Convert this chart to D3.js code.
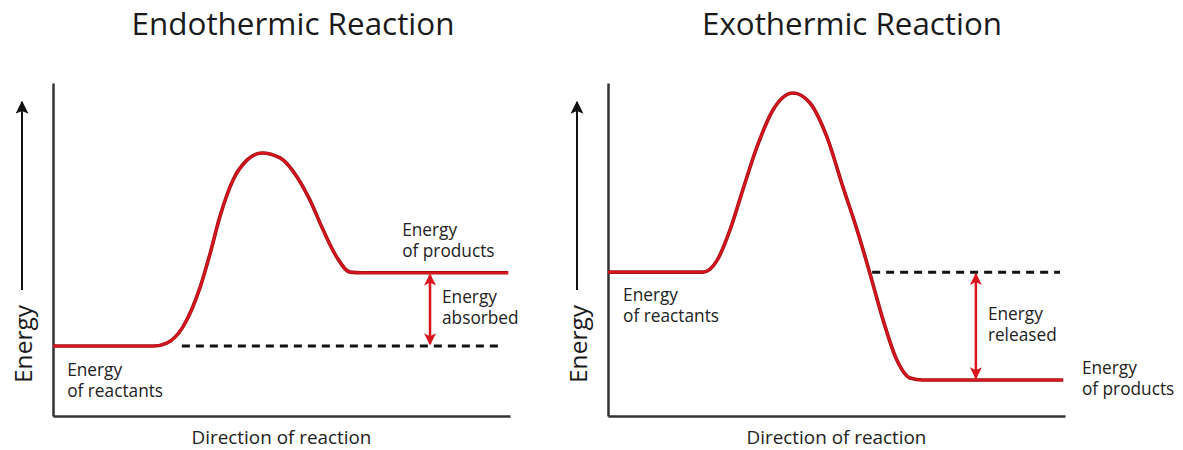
<!DOCTYPE html>
<html><head><meta charset="utf-8">
<script src="https://cdn.jsdelivr.net/npm/d3@7"></script>
<style>
html,body{margin:0;padding:0;background:#fff;}
svg{display:block;}
text{font-family:"Open Sans",Lato,sans-serif;fill:#222;}
</style></head>
<body>
<script>
// ---- data ----
const titles = ["Endothermic Reaction", "Exothermic Reaction"];
const xAxisLabel = "Direction of reaction";
const yAxisLabel = "Energy";
// reaction progress (0-100) and energy (0-100) along each curve
const endoProgress = [0, 22, 24.9, 28.4, 32.2, 34.4, 36.5, 39.4, 42.5, 45.7, 49.7, 53.4, 56.2, 59.1, 62.1, 65.0, 67.8, 99.6];
const endoEnergy   = [21, 21, 21.9, 26.7, 38.7, 48.9, 59.8, 70.9, 76.9, 79.0, 77.5, 71.8, 64.9, 55.9, 47.7, 43.2, 43.0, 43.0];
const exoProgress  = [0, 20.8, 23.9, 26.7, 29.5, 32.6, 36.1, 40.5, 44.2, 47.9, 51.4, 54.5, 57.3, 60.2, 63.2, 66.1, 68.9, 99.6];
const exoEnergy    = [43.2, 43.2, 46.8, 55.9, 67.9, 80.8, 91.9, 97.0, 94.0, 83.8, 68.8, 55.9, 42.9, 28.8, 16.8, 11.4, 10.8, 10.8];
const reactantEnergy = [21, 43.2];
const productEnergy  = [43, 10.8];
const dashStart = [28.2, 57.8];
const dashEnd   = [98.2, 98.9];
const deltaArrowX = [82.5, 80.5];
const deltaLabels = [["Energy", "absorbed"], ["Energy", "released"]];

const W = 1183, H = 450;
const svg = d3.select("body").append("svg").attr("width", W).attr("height", H);
const defs = svg.append("defs");
const red = "#d8141c", axisCol = "#333";

// font sizing helper: size so that `str` spans `target` px
function fitSize(str, target) {
  const t = svg.append("text").attr("font-size", 100).text(str);
  const w = t.node().getComputedTextLength();
  t.remove();
  return 100 * target / w;
}
const labelSize = fitSize("of reactants", 96);
const xLabelSize = fitSize(xAxisLabel, 180);
const yLabelSize = fitSize(yAxisLabel, 78);
const lineGap = 21;

defs.append("marker").attr("id", "blackHead").attr("viewBox", "0 0 10 10")
  .attr("refX", 9).attr("refY", 5).attr("markerWidth", 13).attr("markerHeight", 13)
  .attr("markerUnits", "userSpaceOnUse").attr("orient", "auto")
  .append("path").attr("d", "M0,0 L10,5 L0,10 L2,5 Z").attr("fill", "#111");
defs.append("marker").attr("id", "redHead").attr("viewBox", "0 0 10 10")
  .attr("refX", 9).attr("refY", 5).attr("markerWidth", 13).attr("markerHeight", 12)
  .attr("markerUnits", "userSpaceOnUse").attr("orient", "auto-start-reverse")
  .append("path").attr("d", "M0,0 L10,5 L0,10 L2.5,5 Z").attr("fill", red);

const panelLeft = [53, 608];
const panelWidth = 457;
const yScale = d3.scaleLinear().domain([0, 100]).range([416, 83]);

const curves = [
  endoProgress.map((p, i) => [p, endoEnergy[i]]),
  exoProgress.map((p, i) => [p, exoEnergy[i]])
];

// label layouts per panel (in data units; dy = offset of first baseline)
const labelSets = [
  [ {x: 3.1, y: 21, dy: 30, lines: ["Energy", "of reactants"]},
    {x: 76.4, y: 43, dy: -37, lines: ["Energy", "of products"]} ],
  [ {x: 3.3, y: 43.2, dy: 29, lines: ["Energy", "of reactants"]},
    {x: 103.7, y: 10.8, dy: -6, lines: ["Energy", "of products"]} ]
];
const titleCenters = [293, 852];
const titleWidths = [323, 300];

[0, 1].forEach(k => {
  const x = d3.scaleLinear().domain([0, 100]).range([panelLeft[k], panelLeft[k] + panelWidth]);
  const g = svg.append("g");

  // title
  g.append("text").text(titles[k]).attr("x", titleCenters[k]).attr("y", 35)
    .attr("text-anchor", "middle").attr("font-size", fitSize(titles[k], titleWidths[k]))
    .style("fill", "#1a1a1a");

  // axes
  const yAxis = d3.axisLeft(yScale).tickValues([]).tickSizeOuter(0);
  const xAxis = d3.axisBottom(x).tickValues([]).tickSizeOuter(0);
  g.append("g").attr("transform", `translate(${x(0)},0)`).call(yAxis)
    .call(s => s.select(".domain").attr("stroke", axisCol).attr("stroke-width", 2.5));
  g.append("g").attr("transform", `translate(0,${yScale(0)})`).call(xAxis)
    .call(s => s.select(".domain").attr("stroke", axisCol).attr("stroke-width", 2.5));

  // x label
  g.append("text").text(xAxisLabel).attr("x", x(50)).attr("y", 444)
    .attr("text-anchor", "middle").attr("font-size", xLabelSize);

  // y label + arrow
  const ax = panelLeft[k] - 31;
  g.append("line").attr("x1", ax).attr("x2", ax).attr("y1", 290).attr("y2", 102)
    .attr("stroke", "#111").attr("stroke-width", 2).attr("marker-end", "url(#blackHead)");
  g.append("text").text(yAxisLabel)
    .attr("transform", `translate(${ax + 10},${344}) rotate(-90)`)
    .attr("text-anchor", "middle").attr("font-size", yLabelSize).style("fill", "#1a1a1a");

  // dashed reference line
  g.append("line").attr("x1", x(dashStart[k])).attr("x2", x(dashEnd[k]))
    .attr("y1", yScale(reactantEnergy[k])).attr("y2", yScale(reactantEnergy[k]))
    .attr("stroke", "#111").attr("stroke-width", 3).attr("stroke-dasharray", "8,6");

  // curve
  const line = d3.line().x(d => x(d[0])).y(d => yScale(d[1])).curve(d3.curveMonotoneX);
  g.append("path").datum(curves[k]).attr("d", line).attr("fill", "none")
    .attr("stroke", "#9a1016").attr("stroke-width", 3.6);
  g.append("path").datum(curves[k]).attr("d", line).attr("fill", "none")
    .attr("stroke", red).attr("stroke-width", 2.2);

  // energy delta arrow
  const hi = Math.max(reactantEnergy[k], productEnergy[k]);
  const lo = Math.min(reactantEnergy[k], productEnergy[k]);
  g.append("line").attr("x1", x(deltaArrowX[k])).attr("x2", x(deltaArrowX[k]))
    .attr("y1", yScale(hi) + 2).attr("y2", yScale(lo) - 2)
    .attr("stroke", red).attr("stroke-width", 2.5)
    .attr("marker-start", "url(#redHead)").attr("marker-end", "url(#redHead)");
  const midY = (yScale(hi) + yScale(lo)) / 2;
  deltaLabels[k].forEach((s, i) => {
    g.append("text").attr("font-size", labelSize)
      .attr("x", x(deltaArrowX[k]) + 12).attr("y", midY - 6 + i * lineGap).text(s);
  });

  // level labels
  labelSets[k].forEach(L => {
    L.lines.forEach((s, i) => {
      g.append("text").attr("font-size", labelSize)
        .attr("x", x(L.x)).attr("y", yScale(L.y) + L.dy + i * lineGap).text(s);
    });
  });
});
</script>
</body></html>
